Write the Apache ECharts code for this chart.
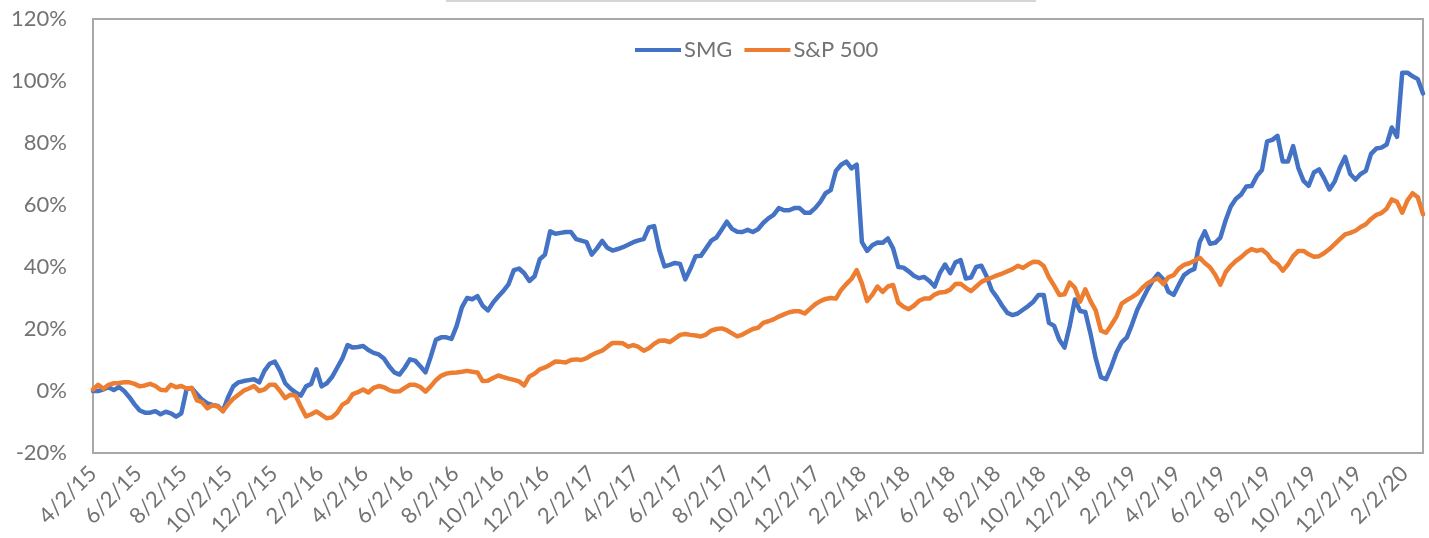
<!DOCTYPE html>
<html>
<head>
<meta charset="utf-8">
<script src="https://cdn.jsdelivr.net/npm/echarts@6/dist/echarts.min.js"></script>
<style>
html,body{margin:0;padding:0;background:#ffffff;}
#chart{width:1429px;height:538px;}
</style>
</head>
<body>
<div id="chart"></div>
<script>
// ---- data (weekly closes, % change since 4/2/15) ----
const startDate = [2015, 4, 2];   // first weekly observation (Y, M, D)
const weekCount = 257;            // weekly points through 2/27/20
const seriesNames = ['SMG', 'S&P 500'];
const tickLabels = ['4/2/15','6/2/15','8/2/15','10/2/15','12/2/15',
  '2/2/16','4/2/16','6/2/16','8/2/16','10/2/16','12/2/16',
  '2/2/17','4/2/17','6/2/17','8/2/17','10/2/17','12/2/17',
  '2/2/18','4/2/18','6/2/18','8/2/18','10/2/18','12/2/18',
  '2/2/19','4/2/19','6/2/19','8/2/19','10/2/19','12/2/19','2/2/20'];
const yTicks = [-20, 0, 20, 40, 60, 80, 100, 120];

const smg = [
  0, 0, 0.5, 1.2, 0.3, 1.3, 0, -2, -4.3, -6.3,
  -7, -7, -6.5, -7.5, -6.7, -7.2, -8.3, -7.2, 0.5, 1,
  -1, -2.8, -4, -4.5, -4.8, -6.5, -2, 1.5, 2.8, 3.2,
  3.5, 3.8, 2.8, 6.5, 8.8, 9.5, 6.5, 2.5, 0.8, -0.5,
  -1.5, 1.5, 2.3, 7, 1.5, 2.5, 4.5, 7.5, 10.5, 14.8,
  14, 14.2, 14.5, 13.2, 12.3, 11.8, 10.5, 8, 6, 5.3,
  7.5, 10.2, 9.8, 8, 6, 11, 16.5, 17.3, 17.3, 16.8,
  21, 27, 30, 29.6, 30.6, 27.5, 26, 28.5, 30.5, 32.3,
  34.5, 39, 39.5, 38, 35.5, 37, 42.5, 44, 51.5, 50.7,
  51, 51.3, 51.3, 49, 48.5, 48, 44, 46, 48.4, 46.2,
  45.3, 45.8, 46.4, 47.2, 48, 48.6, 49, 52.8, 53.2, 45.5,
  40.2, 40.7, 41.3, 41, 36, 39.5, 43.5, 43.6, 46, 48.5,
  49.5, 52, 54.6, 52.3, 51.4, 51.3, 52, 51.3, 52.2, 54.2,
  55.7, 56.8, 59, 58.3, 58.3, 59, 59, 57.5, 57.5, 59,
  61, 63.8, 64.8, 71, 73, 74, 71.8, 73, 48, 45.2,
  47, 47.9, 47.8, 49.2, 46, 40, 39.8, 38.6, 37.2, 36.4,
  36.8, 35.5, 33.7, 38, 40.8, 38, 41.5, 42.2, 36.3, 36.6,
  40, 40.4, 37, 32.5, 30.2, 27.5, 25.2, 24.5, 25, 26.2,
  27.4, 28.8, 31, 31, 22, 21, 16.5, 14, 21, 29.5,
  25.8, 25.5, 18.5, 10.5, 4.5, 3.8, 7.8, 12.4, 15.7, 17.3,
  21.5, 26.2, 29.5, 32.8, 35.7, 37.8, 36, 32, 31, 34.3,
  37.4, 38.6, 39.4, 48, 51.5, 47.5, 47.8, 49.5, 55, 59.5,
  62, 63.4, 66, 66.1, 69.3, 71.3, 80.5, 81, 82.3, 74,
  74, 79, 72, 67.8, 66.2, 70.5, 71.5, 68.5, 65, 67.6,
  72, 75.5, 70, 68.2, 70, 71, 76.5, 78.2, 78.5, 79.5,
  85, 82, 102.7, 102.7, 101.5, 100.6, 96
];

const sp500 = [
  0.5, 2, 0.7, 2, 2.5, 2.6, 2.8, 2.8, 2.3, 1.5,
  1.8, 2.3, 1.6, 0.4, 0.2, 2, 1.2, 1.6, 0.8, 1,
  -3, -3.6, -5.6, -4.6, -5, -6.5, -4.3, -2.5, -1.2, 0.1,
  0.8, 1.6, 0, 0.5, 2, 2, 0, -2.3, -1.2, -1.5,
  -5, -8.2, -7.5, -6.6, -7.7, -8.8, -8.5, -7, -4.4, -3.5,
  -1, -0.4, 0.5, -0.5, 1, 1.6, 1.2, 0.3, -0.2, -0.1,
  1, 2, 2, 1.3, -0.2, 1.5, 3.5, 4.9, 5.6, 5.9,
  6, 6.2, 6.5, 6.2, 6, 3.2, 3.3, 4.2, 5, 4.5,
  4, 3.6, 3.1, 1.8, 4.7, 5.6, 7, 7.6, 8.5, 9.5,
  9.4, 9.2, 10, 10.2, 10, 10.6, 11.6, 12.4, 13, 14.3,
  15.5, 15.5, 15.4, 14.3, 14.8, 14.2, 13, 13.8, 15.2, 16.2,
  16.3, 15.8, 16.9, 18.1, 18.4, 18.1, 17.9, 17.6, 18.2, 19.5,
  20, 20.2, 19.6, 18.6, 17.6, 18.2, 19.1, 20, 20.4, 22,
  22.5, 23.1, 24, 24.7, 25.4, 25.7, 25.7, 25, 26.5, 28,
  29, 29.7, 30, 29.8, 32.6, 34.5, 36.2, 39, 34.7, 29,
  31, 33.7, 32, 33.7, 34.2, 28.5, 27.2, 26.4, 27.5, 29.1,
  29.8, 29.8, 31.1, 31.8, 31.9, 32.7, 34.5, 34.6, 33.3, 32.2,
  33.7, 35.2, 36, 36.6, 37.3, 37.9, 38.6, 39.3, 40.4, 39.7,
  40.8, 41.7, 41.6, 40.3, 36.7, 34, 31, 31.2, 35, 33.3,
  28.8, 32.8, 29, 26, 19.5, 18.8, 21.3, 24, 28.2, 29.3,
  30.3, 31.4, 33.3, 34.8, 35.7, 36.3, 34.5, 36.7, 37.4, 39.5,
  40.7, 41.2, 42, 43, 41.3, 39.9, 37.5, 34.3, 38.3, 40.4,
  42, 43.2, 44.7, 45.8, 45.2, 45.6, 44.3, 42, 41, 38.8,
  40.8, 43.5, 45.2, 45.2, 44.1, 43.3, 43.5, 44.5, 45.8, 47.4,
  49, 50.5, 51, 51.7, 52.9, 53.8, 55.5, 56.8, 57.4, 58.8,
  61.8, 61, 57.5, 61.5, 63.8, 62.5, 57
];

// ---- build chart ----
const DAY = 86400000;
const t0 = Date.UTC(startDate[0], startDate[1] - 1, startDate[2]);
const weekDates = [];
for (let i = 0; i < weekCount; i++) weekDates.push(t0 + i * 7 * DAY);

function parseLabel(s) {
  const p = s.split('/').map(Number);
  return Date.UTC(2000 + p[2], p[0] - 1, p[1]);
}
const tickTimes = tickLabels.map(parseLabel);
const labelByTime = {};
tickTimes.forEach((t, i) => { labelByTime[t] = tickLabels[i]; });

const pair = (arr) => arr.map((v, i) => [weekDates[i], v]);

const FONT = 'Lato';
const TXT = '#737373';

const chart = echarts.init(document.getElementById('chart'), null, {renderer: 'canvas'});
chart.setOption({
  animation: false,
  backgroundColor: '#ffffff',
  textStyle: {fontFamily: FONT},
  graphic: [{
    type: 'line',
    shape: {x1: 446, y1: 1, x2: 1036, y2: 1},
    style: {stroke: '#d6d6d6', lineWidth: 2}
  }],
  legend: {
    data: seriesNames,
    left: 630,
    top: 34,
    icon: 'rect',
    itemWidth: 46,
    itemHeight: 4,
    itemGap: 12,
    textStyle: {fontFamily: FONT, fontSize: 22, color: TXT, padding: [0, 0, 0, -2]}
  },
  grid: {
    left: 93, top: 19, width: 1330, height: 434,
    show: true, borderColor: '#A8A8A8', borderWidth: 2,
    containLabel: false,
    outerBoundsMode: 'none'
  },
  xAxis: {
    type: 'value',
    min: weekDates[0],
    max: weekDates[weekDates.length - 1],
    axisLine: {show: false},
    axisTick: {show: false},
    splitLine: {show: false},
    axisLabel: {
      customValues: tickTimes,
      rotate: 45,
      margin: 17,
      fontFamily: FONT,
      fontSize: 22,
      color: TXT,
      hideOverlap: false,
      showMinLabel: true,
      showMaxLabel: true,
      formatter: function (v) { return labelByTime[v] || ''; }
    }
  },
  yAxis: {
    type: 'value',
    min: yTicks[0],
    max: yTicks[yTicks.length - 1],
    interval: 20,
    axisLine: {show: false},
    axisTick: {show: false},
    splitLine: {show: false},
    axisLabel: {
      formatter: '{value}%',
      margin: 26,
      fontFamily: FONT,
      fontSize: 22,
      color: TXT
    }
  },
  series: [
    {
      name: seriesNames[0], type: 'line', data: pair(smg),
      showSymbol: false, symbol: 'none',
      lineStyle: {color: '#4472C4', width: 4.5, cap: 'round', join: 'round'},
      itemStyle: {color: '#4472C4'}
    },
    {
      name: seriesNames[1], type: 'line', data: pair(sp500),
      showSymbol: false, symbol: 'none',
      lineStyle: {color: '#ED7D31', width: 4.5, cap: 'round', join: 'round'},
      itemStyle: {color: '#ED7D31'}
    }
  ]
});
</script>
</body>
</html>
